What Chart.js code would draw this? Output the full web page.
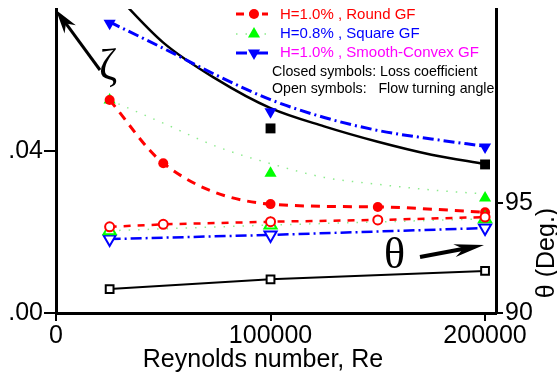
<!DOCTYPE html>
<html>
<head>
<meta charset="utf-8">
<script src="https://cdn.jsdelivr.net/npm/chart.js@4.4.1/dist/chart.umd.min.js"></script>
<style>
  html, body { margin: 0; padding: 0; background: #fff; }
  #page { width: 557px; height: 376px; position: relative; overflow: hidden; }
  #wrap { position: absolute; left: 9px; top: 0; width: 548px; height: 376px; overflow: hidden; }
  #chart { position: absolute; left: -24px; top: 0; }
</style>
</head>
<body>
<div id="page"><div id="wrap"><canvas id="chart" width="572" height="376"></canvas></div></div>
<script>
// Reynolds numbers of the measurements
const reRound = [25000, 50000, 100000, 150000, 200000];
const reMain = [25000, 100000, 200000];
const reBlack = [100000, 200000];
const reFit = [25000, 50000, 75000, 100000, 125000, 150000, 175000, 200000];

// loss coefficient (closed symbols, left axis)
const roundLoss = [0.0526, 0.0370, 0.0269, 0.0262, 0.0249];
const squareLoss = [0.0526, 0.0345, 0.0284];
const convexLoss = [0.0716, 0.0497, 0.0410];
const blackLoss = [0.0456, 0.0367];

// fitted curves for the loss coefficient
const blackFit = [0.0803, 0.0668, 0.0577, 0.0506, 0.0461, 0.0423, 0.0391, 0.0368];
const squareFit = [0.0526, 0.0469, 0.0411, 0.0369, 0.0335, 0.0318, 0.0304, 0.0294];
const convexFit = [0.0719, 0.0654, 0.0587, 0.0527, 0.0483, 0.0451, 0.0430, 0.0412];

// flow turning angle (open symbols, right axis)
const roundAngle = [93.92, 94.03, 94.15, 94.23, 94.36];
const squareAngle = [93.74, 94.00, 94.28];
const convexAngle = [93.36, 93.55, 93.86];
const blackAngle = [91.09, 91.53, 91.91];

const xTicks = [0, 100000, 200000];
const lossTicks = [0, 0.04];
const angleTicks = [90, 95];

// canvas x = page x + SHIFT; the page itself shows a white strip left of x=9
const SHIFT = 15;
const FONT = '"Liberation Sans", Arial, sans-serif';

function pts(xs, ys) {
    return xs.map((x, i) => ({ x: x, y: ys[i] }));
}

const RED = '#ff0000', GREEN = '#00ff00', BLUE = '#0000ff', MAGENTA = '#ff00ff';
const GREEN_DOT = 'rgba(0, 210, 0, 0.45)';

function drawMarker(ctx, shape, x, y, r, fill, stroke, lw) {
    ctx.save();
    ctx.beginPath();
    if (shape === 'circle') {
        ctx.arc(x, y, r, 0, Math.PI * 2);
    } else if (shape === 'up') {
        ctx.moveTo(x, y - r);
        ctx.lineTo(x + r * 0.866, y + r / 2);
        ctx.lineTo(x - r * 0.866, y + r / 2);
        ctx.closePath();
    } else if (shape === 'down') {
        ctx.moveTo(x, y + r);
        ctx.lineTo(x + r * 0.866, y - r / 2);
        ctx.lineTo(x - r * 0.866, y - r / 2);
        ctx.closePath();
    }
    ctx.fillStyle = fill;
    ctx.fill();
    if (stroke) {
        ctx.lineWidth = lw;
        ctx.strokeStyle = stroke;
        ctx.stroke();
    }
    ctx.restore();
}

function arrow(ctx, x1, y1, x2, y2, shaft, headLen, headHalf) {
    const dx = x2 - x1, dy = y2 - y1;
    const len = Math.sqrt(dx * dx + dy * dy);
    const ux = dx / len, uy = dy / len;
    const bx = x2 - ux * headLen, by = y2 - uy * headLen;
    ctx.save();
    ctx.strokeStyle = '#000';
    ctx.fillStyle = '#000';
    ctx.lineWidth = shaft;
    ctx.beginPath();
    ctx.moveTo(x1, y1);
    ctx.lineTo(x2 - ux * headLen * 0.5, y2 - uy * headLen * 0.5);
    ctx.stroke();
    ctx.beginPath();
    ctx.moveTo(x2, y2);
    ctx.lineTo(bx - uy * headHalf, by + ux * headHalf);
    ctx.lineTo(x2 - ux * headLen * 0.7, y2 - uy * headLen * 0.7);
    ctx.lineTo(bx + uy * headHalf, by - ux * headHalf);
    ctx.closePath();
    ctx.fill();
    ctx.restore();
}

const extras = {
    id: 'extras',
    afterDraw(chart) {
        const ctx = chart.ctx;
        const p = x => x + SHIFT;
        ctx.save();

        // legend symbols
        const rows = [
            { y: 14, color: RED, dash: [8, 5], w: 3, shape: 'circle', r: 5, fill: RED },
            { y: 34, color: GREEN_DOT, dash: [1.5, 8], w: 1.5, shape: 'up', r: 7, fill: GREEN },
            { y: 53, color: BLUE, dash: [11, 4, 2, 4], w: 3, shape: 'down', r: 7, fill: BLUE }
        ];
        rows.forEach(row => {
            ctx.save();
            ctx.strokeStyle = row.color;
            ctx.lineWidth = row.w;
            ctx.setLineDash(row.dash);
            ctx.beginPath();
            ctx.moveTo(p(236), row.y);
            ctx.lineTo(p(268), row.y);
            ctx.stroke();
            ctx.restore();
            drawMarker(ctx, row.shape, p(254), row.y, row.r, row.fill);
        });

        ctx.textBaseline = 'middle';
        ctx.textAlign = 'left';
        ctx.font = '15px ' + FONT;
        ctx.fillStyle = RED;
        ctx.fillText('H=1.0% , Round GF', p(280), 15);
        ctx.fillStyle = BLUE;
        ctx.fillText('H=0.8% , Square GF', p(280), 34);
        ctx.fillStyle = MAGENTA;
        ctx.fillText('H=1.0% , Smooth-Convex GF', p(280), 53);
        ctx.font = '14.2px ' + FONT;
        ctx.fillStyle = '#000';
        ctx.fillText('Closed symbols: Loss coefficient', p(272), 72);
        ctx.fillText('Open symbols:   Flow turning angle', p(272), 89.5);

        // axis titles
        ctx.font = '25px ' + FONT;
        ctx.textAlign = 'center';
        ctx.textBaseline = 'alphabetic';
        ctx.fillText('Reynolds number, Re', p(263), 367);
        ctx.save();
        ctx.translate(p(547), 253);
        ctx.rotate(-Math.PI / 2);
        ctx.textBaseline = 'middle';
        ctx.fillText('\u03b8 (Deg.)', 0, 0);
        ctx.restore();

        // annotations
        ctx.font = '44px "Liberation Serif", serif';
        ctx.textAlign = 'left';
        ctx.fillText('\u03b6', p(99), 79);
        ctx.fillText('\u03b8', p(384), 268);
        arrow(ctx, p(100), 70, p(56), 10, 3, 24, 7);
        arrow(ctx, p(420), 257, p(484), 245, 4, 30, 6.5);

        ctx.restore();
    }
};

function fixBox(w, h) {
    return function (scale) {
        if (w !== null) scale.width = w;
        if (h !== null) scale.height = h;
        scale.paddingTop = 0;
        scale.paddingBottom = 0;
        scale.paddingLeft = 0;
        scale.paddingRight = 0;
    };
}

const lineBase = { showLine: true, pointRadius: 0, fill: false, cubicInterpolationMode: 'monotone' };

new Chart(document.getElementById('chart').getContext('2d'), {
    type: 'scatter',
    data: {
        datasets: [
            // open symbols (right axis)
            { data: pts(reRound, roundAngle), yAxisID: 'yR', showLine: true, borderColor: RED, borderWidth: 2.5,
              borderDash: [7, 7], pointStyle: 'circle', pointRadius: 4.5, pointBorderWidth: 2,
              pointBorderColor: RED, pointBackgroundColor: '#fff' },
            { data: pts(reMain, squareAngle), yAxisID: 'yR', showLine: true, borderColor: GREEN_DOT, borderWidth: 1.5,
              borderDash: [1.5, 8], pointStyle: 'triangle', pointRadius: 7, pointBorderWidth: 2,
              pointBorderColor: GREEN, pointBackgroundColor: '#fff' },
            { data: pts(reMain, convexAngle), yAxisID: 'yR', showLine: true, borderColor: BLUE, borderWidth: 2.5,
              borderDash: [11, 4, 2, 4], pointStyle: 'triangle', pointRotation: 180, pointRadius: 7,
              pointBorderWidth: 2, pointBorderColor: BLUE, pointBackgroundColor: '#fff' },
            { data: pts(reMain, blackAngle), yAxisID: 'yR', showLine: true, borderColor: '#000', borderWidth: 2,
              pointStyle: 'rect', pointRadius: 5.5, pointBorderWidth: 2, pointBorderColor: '#000',
              pointBackgroundColor: '#fff' },

            // closed symbols (left axis)
            { data: pts(reRound, roundLoss), yAxisID: 'yL', showLine: true, borderColor: RED, borderWidth: 3,
              borderDash: [9, 7], cubicInterpolationMode: 'monotone', pointStyle: 'circle', pointRadius: 5,
              pointBorderWidth: 0, pointBackgroundColor: RED },
            { data: pts(reMain, squareLoss), yAxisID: 'yL', pointStyle: 'triangle', pointRadius: 7,
              pointBorderWidth: 0, pointBackgroundColor: GREEN },
            { data: pts(reMain, convexLoss), yAxisID: 'yL', pointStyle: 'triangle', pointRotation: 180,
              pointRadius: 7, pointBorderWidth: 0, pointBackgroundColor: BLUE },
            { data: pts(reBlack, blackLoss), yAxisID: 'yL', pointStyle: 'rect', pointRadius: 7,
              pointBorderWidth: 0, pointBackgroundColor: '#000' },

            // fitted loss curves
            Object.assign({ data: pts(reFit, convexFit), yAxisID: 'yL', borderColor: BLUE, borderWidth: 3,
              borderDash: [11, 4, 2, 4] }, lineBase),
            Object.assign({ data: pts(reFit, squareFit), yAxisID: 'yL', borderColor: GREEN_DOT, borderWidth: 1.5,
              borderDash: [1.5, 8] }, lineBase),
            Object.assign({ data: pts(reFit, blackFit), yAxisID: 'yL', borderColor: '#000', borderWidth: 2.5 }, lineBase)
        ]
    },
    options: {
        responsive: false,
        animation: false,
        events: [],
        layout: { padding: { top: 9, left: 0, right: 0, bottom: 0 } },
        plugins: { legend: { display: false }, tooltip: { enabled: false } },
        scales: {
            x: {
                type: 'linear', min: 0, max: 205100,
                afterBuildTicks: s => { s.ticks = xTicks.map(v => ({ value: v })); },
                afterFit: fixBox(null, 63),
                ticks: { color: '#000', font: { size: 25, family: FONT }, padding: 0, maxRotation: 0,
                         callback: v => String(v) },
                grid: { drawOnChartArea: false, drawTicks: true, tickLength: 8, color: '#000', lineWidth: 2 },
                border: { display: true, color: '#000', width: 3 }
            },
            yL: {
                type: 'linear', position: 'left', min: 0, max: 0.0751,
                afterBuildTicks: s => { s.ticks = lossTicks.map(v => ({ value: v })); },
                afterFit: fixBox(56 + SHIFT, null),
                ticks: { color: '#000', font: { size: 25, family: FONT }, padding: 1,
                         callback: v => v.toFixed(2) },
                grid: { drawOnChartArea: false, drawTicks: true, tickLength: 12, color: '#000', lineWidth: 2 },
                border: { display: true, color: '#000', width: 3 }
            },
            yR: {
                type: 'linear', position: 'right', min: 90, max: 103.82,
                afterBuildTicks: s => { s.ticks = angleTicks.map(v => ({ value: v })); },
                afterFit: fixBox(572 - (496 + SHIFT), null),
                ticks: { color: '#000', font: { size: 25, family: FONT }, padding: 2,
                         callback: v => String(v) },
                grid: { drawOnChartArea: false, drawTicks: true, tickLength: 7, color: '#000', lineWidth: 2 },
                border: { display: true, color: '#000', width: 3 }
            }
        }
    },
    plugins: [extras]
});
</script>
</body>
</html>
